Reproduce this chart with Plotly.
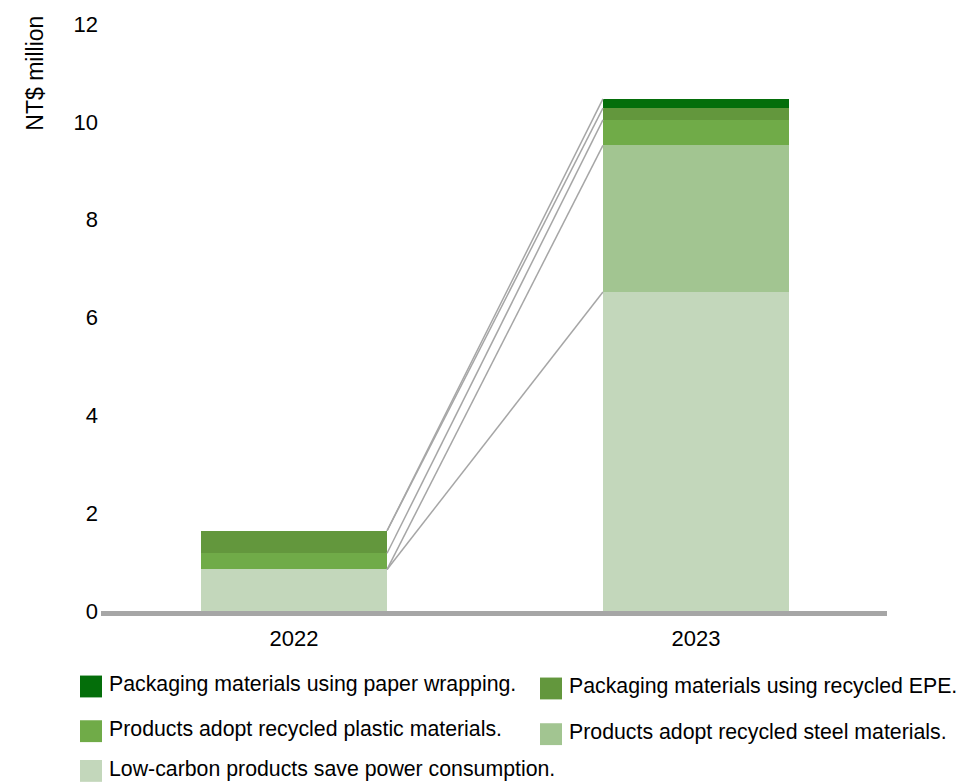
import plotly.graph_objects as go

years = ["2022", "2023"]
series_names = [
    "Low-carbon products save power consumption.",
    "Products adopt recycled steel materials.",
    "Products adopt recycled plastic materials.",
    "Packaging materials using recycled EPE.",
    "Packaging materials using paper wrapping.",
]
low_carbon = [0.85, 6.52]
steel = [0.0, 3.0]
plastic = [0.33, 0.52]
epe = [0.46, 0.24]
paper = [0.0, 0.19]
series_values = [low_carbon, steel, plastic, epe, paper]
colors = ["#C3D7BB", "#A2C591", "#70AB48", "#63973D", "#046E0A"]
y_ticks = [0, 2, 4, 6, 8, 10, 12]

FONT = "Arial, 'Liberation Sans', sans-serif"
W, H = 980, 782
L, R, T, B = 101, 93, 20, 171
bar_w = 0.463
xpos = [0, 1]

fig = go.Figure()

# stacked bars
for name, vals, col in zip(series_names, series_values, colors):
    fig.add_trace(go.Bar(x=xpos, y=vals, name=name, marker=dict(color=col, line=dict(width=0)),
                         width=bar_w, showlegend=False))

# connector lines between the tops of each series
cum = [0.0, 0.0]
for vals in series_values:
    cum = [cum[0] + vals[0], cum[1] + vals[1]]
    fig.add_trace(go.Scatter(x=[xpos[0] + bar_w / 2, xpos[1] - bar_w / 2], y=list(cum),
                             mode="lines", line=dict(color="#A6A6A6", width=1.5),
                             showlegend=False, hoverinfo="skip"))

# manual legend (paper coordinates from pixel positions)
plot_w = W - L - R
plot_h = H - T - B
def px_x(p):
    return (p - L) / plot_w
def px_y(p):
    return (H - B - p) / plot_h

legend_order = [4, 3, 2, 1, 0]
legend_pos = [(80, 687), (540, 689), (80, 732), (540, 735), (80, 772)]
sw = 22
for idx, (lx, ly) in zip(legend_order, legend_pos):
    fig.add_shape(type="rect", xref="paper", yref="paper",
                  x0=px_x(lx), x1=px_x(lx + sw), y0=px_y(ly - sw / 2), y1=px_y(ly + sw / 2),
                  fillcolor=colors[idx], line=dict(width=0))
    fig.add_annotation(xref="paper", yref="paper", x=px_x(lx + sw + 5), y=px_y(ly - 2),
                       text=series_names[idx], showarrow=False, xanchor="left", yanchor="middle",
                       font=dict(family=FONT, size=21.3, color="#000000"))

# y title near top
fig.add_annotation(xref="paper", yref="paper", x=px_x(35), y=px_y(70), text="NT$ million",
                   textangle=-90, showarrow=False, xanchor="center", yanchor="middle",
                   font=dict(family=FONT, size=23, color="#000000"))

fig.update_layout(
    barmode="stack",
    width=W, height=H,
    margin=dict(l=L, r=R, t=T, b=B, pad=0),
    paper_bgcolor="white", plot_bgcolor="white",
    font=dict(family=FONT, size=22, color="#000000"),
    showlegend=False,
    xaxis=dict(range=[-0.48, 1.475], tickvals=xpos, ticktext=years, showgrid=False,
               zeroline=False, showline=True, linecolor="#A6A6A6", linewidth=5, ticks="",
               ticklabelstandoff=4),
    yaxis=dict(range=[0, 12], tickvals=y_ticks, showgrid=False, zeroline=False,
               showline=False, ticks="", ticklabelstandoff=2),
)

fig.write_html("out.html")
